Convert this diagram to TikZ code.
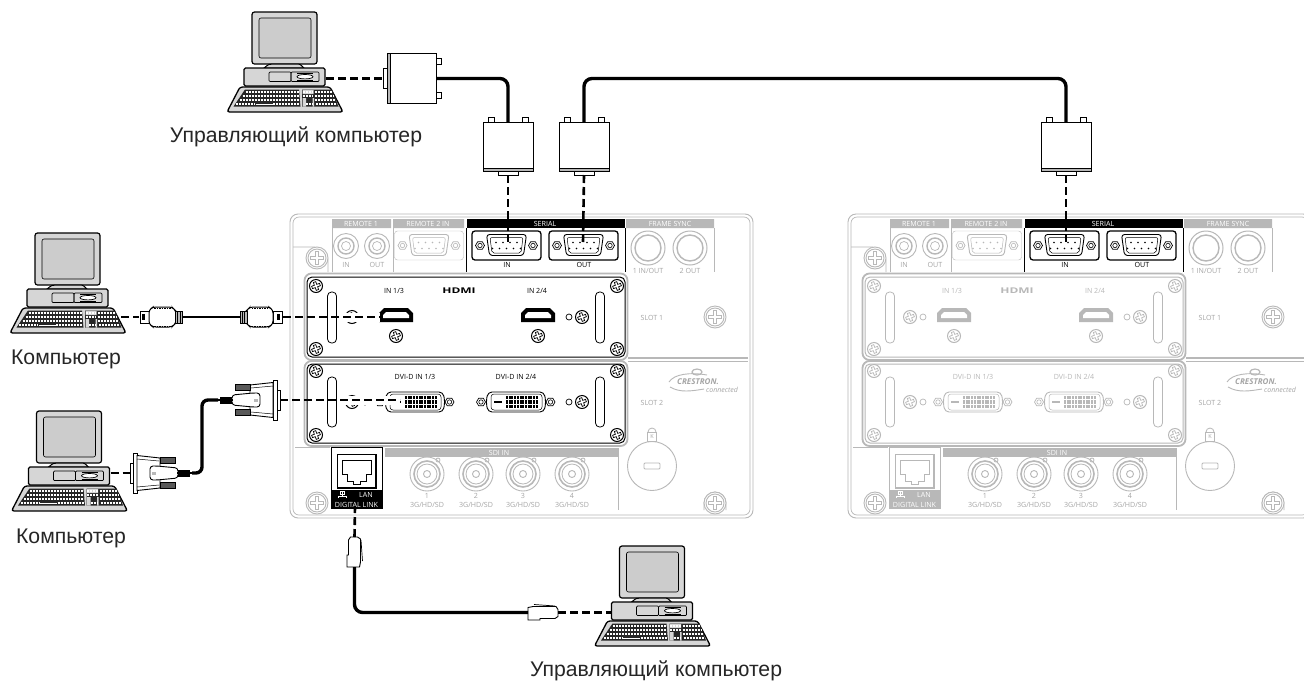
\documentclass[tikz,border=0pt]{standalone}
\usepackage{fontspec}
\setmainfont{Liberation Sans}
\setsansfont{Open Sans}
\usetikzlibrary{calc}

\definecolor{panelgray}{gray}{.72}
\definecolor{bodygray}{gray}{.84}
\definecolor{screengray}{gray}{.80}
\newcommand{\plusoutline}{(-1.2,-4)--(1.2,-4)--(1.2,-1.2)--(4,-1.2)--(4,1.2)--(1.2,1.2)--(1.2,4)--(-1.2,4)--(-1.2,1.2)--(-4,1.2)--(-4,-1.2)--(-1.2,-1.2)--cycle}

\tikzset{
    caption/.style  ={font=\fontsize{21.2}{24}\selectfont, inner sep=0pt, text=black!85},
    ptxt/.style     ={font=\fontsize{7.1}{8}\selectfont\sffamily, inner sep=0pt},
    gtxt/.style     ={ptxt, text=panelgray!90!black},
    btxt/.style     ={ptxt, text=boardcol},
    wtxt/.style     ={ptxt, text=white},
    signal/.style   ={line width=2.6pt, dash pattern=on 8pt off 4pt},
    cable/.style    ={line width=3.4pt, rounded corners=8pt},
    halo/.style     ={white, line width=9pt},
    keyrow/.style   ={white, line width=2.9pt, dash pattern=on 2.2pt off .8pt},
    % little parts of the rear panel
    platescrew/.pic={
        \draw[line width=1pt, fill=white] (0,0) circle[radius=6.5pt];
        \draw[line width=.7pt, scale=1.05, rotate=20] \plusoutline;
    },
    bigscrew/.pic={
        \draw[panelgray, line width=.9pt, fill=white] (0,0) circle[radius=11pt];
        \draw[panelgray, line width=.9pt] (0,0) circle[radius=9pt];
        \draw[panelgray, line width=.9pt, scale=1.6] \plusoutline;
    },
    hexscrew/.pic={
        \draw[line width=.7pt, fill=white] (-4.5,0)--(-2.3,-3.8)--(2.3,-3.8)--(4.5,0)--(2.3,3.8)--(-2.3,3.8)--cycle;
        \draw[line width=.6pt] (0,0) circle[radius=2.2pt];
    },
    serialport/.pic={
        \draw[rounded corners=3pt, fill=white] (-34.5,-14.5) rectangle (34.5,14.5);
        \pic at (-26.5,0) {hexscrew};
        \pic at (26.5,0) {hexscrew};
        \draw[line width=.9pt, rounded corners=3pt, fill=white] (-20,-11) -- (20,-11) -- (17,10) -- (-17,10) -- cycle;
        \draw[line width=.5pt, rounded corners=2pt] (-16.5,-8) -- (16.5,-8) -- (14.5,7.5) -- (-14.5,7.5) -- cycle;
        \foreach \x in {-10.5,-3.5,3.5,10.5} \fill (\x,-3) circle[radius=.9pt];
        \foreach \x in {-14,-7,0,7,14} \fill (\x,3) circle[radius=.9pt];
    },
    hdmiport/.pic={
        \fill (-17,-2)--(-12,-7)--(12,-7)--(17,-2)--(17,7)--(-17,7)--cycle;
        \fill[white] (-13,0)--(-10,-3)--(10,-3)--(13,0)--(13,3)--(-13,3)--cycle;
    },
    dviport/.pic={
        \pic at (-35,0) {hexscrew};
        \pic at (34.5,0) {hexscrew};
        \draw[line width=.9pt, rounded corners=4pt, fill=white] (-28,-10) -- (28,-10) -- (30,0) -- (28,10) -- (-28,10) -- (-30,0) -- cycle;
        \draw[line width=.5pt, rounded corners=3pt] (-25,-8) rectangle (26,8);
        \draw[line width=1.5pt] (-22,0) -- (-14,0);
        \foreach \y in {-4.5,0,4.5} \draw[line width=3.4pt, dash pattern=on 2pt off .7pt] (-10,\y) -- (22,\y);
    },
    bncport/.pic={
        \draw[panelgray, line width=.9pt, fill=white] (0,0) circle[radius=17pt];
        \draw[panelgray, line width=1.6pt] (0,0) circle[radius=13pt];
        \draw[panelgray, line width=.8pt] (0,0) circle[radius=10pt];
        \draw[panelgray, line width=.9pt] (0,0) circle[radius=3.5pt];
        \draw[panelgray, line width=.8pt] (11,-14) circle[radius=2pt];
    },
    % the computer, origin at the top of the monitor
    computer/.pic={
        \draw[line width=1.2pt, fill=bodygray, rounded corners=2.5pt] (-33,0) rectangle (32,52);
        \draw[line width=.6pt, fill=screengray, rounded corners=2pt] (-26,6) rectangle (26,46);
        \draw[line width=1pt, fill=bodygray] (-21,56) .. controls (-16,52) .. (-12,52) -- (11,52) .. controls (15,52) .. (19,56) -- cycle;
        \draw[line width=1.2pt, fill=bodygray, rounded corners=1.5pt] (-41,56) rectangle (40,74);
        \draw[line width=.7pt, rounded corners=1pt] (-16,60) rectangle (6,69.5);
        \draw[line width=.7pt, rounded corners=1pt] (6,60) rectangle (34,69.5);
        \draw[line width=.6pt] (12,61.5) -- (28,61.5) (12,68) -- (28,68);
        \draw[line width=.7pt, fill=white] (20,64.7) ellipse[x radius=8pt, y radius=2.2pt];
        \draw[line width=1.3pt, fill=bodygray, rounded corners=2.5pt] (-45,75) -- (45,75) -- (58,100) -- (-58,100) -- cycle;
        \fill[black!85] (-40,77.5) -- (14,77.5) -- (15.5,94.5) -- (-51.5,94.5) -- cycle;
        \fill[black!85] (17,77.5) -- (47,77.5) -- (53.5,94.5) -- (17,94.5) -- cycle;
        \fill[bodygray] (17.5,78) rectangle (28.5,82) (17.5,86) rectangle (21,94.5) (27.5,86) rectangle (29,94.5);
        \foreach \y/\xa/\xb in {80/-39.5/13.5, 84/-42.5/14, 88/-45.5/14.5, 92/-49/-30, 92/-12/15}
            \draw[keyrow] (\xa,\y) -- (\xb,\y);
        \draw[keyrow, line width=1.5pt, dash pattern=] (-29.5,92.5) -- (-12.5,92.5);
        \foreach \y/\xa/\xb in {80/17.5/28, 80/30/47, 84/17.5/28, 84/30/48.5, 88/30/50, 92/31/52, 92/21/27.5}
            \draw[keyrow] (\xa,\y) -- (\xb,\y);
        \coordinate (-key) at (53,84);
        \coordinate (-rear) at (41,66.5);
        \coordinate (-left) at (-41,66.5);
    },
    % D-sub plug, origin where the cable enters
    dsubplug/.pic={
        \draw[line width=.8pt, fill=white] (-20,-5) rectangle (-14,0);
        \draw[line width=.8pt, fill=white] (14,-5) rectangle (20,0);
        \draw[line width=.8pt, fill=white] (-10,48) rectangle (10,53);
        \draw[line width=.9pt, fill=white] (-25,0) rectangle (25,49);
        \draw[line width=.8pt, fill=panelgray] (-25,46) rectangle (25,49);
        \coordinate (-top) at (0,0);
        \coordinate (-pin) at (0,53);
    },
    hdmiplug/.pic={
        \draw[line width=.9pt, fill=white] (-42,-6) rectangle (-33,6);
        \fill (-40,-3) rectangle (-37,3);
        \draw[line width=1pt, fill=white, rounded corners=3pt] (-33,-7) -- (-29,-10) -- (-10,-10) -- (-6,-6) -- (-6,6) -- (-10,10) -- (-29,10) -- (-33,7) -- cycle;
        \draw[line width=.8pt, dash pattern=on 1.5pt off 1pt] (-28,-9) -- (-11,-9) (-28,9) -- (-11,9);
        \draw[line width=.8pt, fill=panelgray] (-7,-6) rectangle (0,6);
        \draw[line width=.6pt] (-4.5,-6) -- (-4.5,6) (-2,-6) -- (-2,6);
        \coordinate (-tip) at (-43,0);
        \coordinate (-tail) at (0,0);
    },
    dviplug/.pic={
        \draw[line width=.8pt, fill=white] (0,-10) rectangle (3,10);
        \draw[line width=.9pt, fill=white] (-4,-20) rectangle (0,20);
        \draw[line width=.9pt, fill=white] (-27,-15) -- (-4,-17.5) -- (-4,17.5) -- (-27,15) -- cycle;
        \draw[line width=.5pt] (-26,-12) -- (-4,-14) (-26,12) -- (-4,14);
        \draw[line width=.7pt, fill=black!65] (-42,-15.5) rectangle (-27,-10);
        \draw[line width=.7pt, fill=black!65] (-42,9.5) rectangle (-27,15);
        \draw[line width=.9pt, fill=white, rounded corners=3pt] (-45,-5) -- (-24,-7) -- (-17,-7) -- (-17,7) -- (-24,7) -- (-45,5) -- cycle;
        \fill[panelgray] (-23,-1.5) rectangle (-19,1.5);
        \draw[line width=2pt] (-59,0) -- (-44,0);
        \fill[black] (-57,-3.5) rectangle (-45,3.5);
        \coordinate (-end) at (3,0);
        \coordinate (-tail) at (-59,0);
    },
    lanplug/.pic={
        \draw[line width=.9pt, fill=white] (0,-5) -- (5,-6) -- (28,-6) -- (30,-3) -- (30,4) -- (27,6) -- (12,6) -- (12,7.5) -- (0,7.5) -- cycle;
        \draw[line width=.7pt] (6,-8) -- (27,-6.5);
        \coordinate (-tail) at (0,0);
        \coordinate (-tip) at (30,0);
    },
    % the whole rear panel, drawn at the position of the left one
    pics/rearpanel/.style={code={
        \colorlet{boardcol}{#1}
        \draw[panelgray, line width=.9pt, rounded corners=8pt] (290,214) rectangle (753,518);
        \draw[panelgray, line width=.7pt, rounded corners=6pt] (293,217) rectangle (750,515);
        % top row
        \fill[panelgray] (332,219) rectangle (391,228) (393,219) rectangle (464,228) (626,219) rectangle (714,228);
        \fill[black] (467,219) rectangle (625,228);
        \node[wtxt] (remotea) at (361,224) {REMOTE 1};
        \node[wtxt] (remoteb) at (428,224) {REMOTE 2 IN};
        \node[wtxt] (serial) at (545,224) {SERIAL};
        \node[wtxt] (framesync) at (670,224) {FRAME SYNC};
        \draw[panelgray, line width=.7pt] (332,228) -- (332,272) (393,228) -- (393,272) (714,228) -- (714,272);
        \draw[black, line width=.7pt] (466,228) -- (466,272) (625,228) -- (625,272);
        \foreach \n/\x/\t in {ain/346/IN, aout/377/OUT} {
            \draw[panelgray, line width=.9pt] (\x,246) circle[radius=12.5pt];
            \draw[panelgray, line width=1.4pt] (\x,246) circle[radius=8pt];
            \draw[panelgray, line width=.7pt] (\x,246) circle[radius=4.5pt];
            \node[gtxt] (\n) at (\x,264.5) {\t};
        }
        \pic[color=panelgray] at (429,245.5) {serialport};
        \pic[color=black, line width=1.3pt] (serin) at (506.5,245.5) {serialport};
        \pic[color=black, line width=1.3pt] (serout) at (583.5,245.5) {serialport};
        \node[ptxt] (inlabel) at (507,264.5) {IN};
        \node[ptxt] (outlabel) at (584,264.5) {OUT};
        \foreach \n/\x/\t in {fsa/648/{1 IN/OUT}, fsb/690/{2 OUT}} {
            \draw[panelgray, line width=1pt] (\x,248) circle[radius=17pt];
            \draw[panelgray, line width=1.4pt] (\x,248) circle[radius=13pt];
            \node[gtxt] (\n) at (\x,271) {\t};
        }
        \draw[panelgray, line width=.9pt] (293,247) -- (312,247) .. controls (322,247) and (328,252) .. (328,262) -- (328,272);
        \pic at (317,258) {bigscrew};
        % the two boards
        \foreach \ya/\yb/\yc/\yd in {273.5/360/277/357, 361/446/364/443} {
            \draw[panelgray, line width=1.8pt, rounded corners=7pt, fill=white] (304.5,\ya) rectangle (627.5,\yb);
            \draw[boardcol, line width=1pt, rounded corners=5pt] (307,\yc) rectangle (625,\yd);
        }
        \foreach \x in {316,617} \foreach \y in {286,349,371,435} \pic[color=boardcol] at (\x,\y) {platescrew};
        \foreach \x in {332,600} \foreach \ya/\yb in {292/343, 377/427}
            \draw[boardcol, line width=.8pt, rounded corners=4pt] (\x-4.5,\ya) rectangle (\x+4.5,\yb);
        \foreach \y in {317,402} {
            \pic[color=boardcol] at (352,\y) {platescrew};
            \pic[color=boardcol] at (582,\y) {platescrew};
            \draw[boardcol, line width=.7pt] (365,\y) circle[radius=3pt] (569,\y) circle[radius=3pt];
        }
        % HDMI board
        \node[btxt] (hdmilabela) at (394,291) {IN 1/3};
        \node[btxt, font=\fontsize{7.5}{8}\selectfont\sffamily\bfseries] (hdmilogo) at (459,291) {\scalebox{1.6}[1.05]{HDMI}};
        \node[btxt] (hdmilabelb) at (537,291) {IN 2/4};
        \pic[color=boardcol] at (396,315) {hdmiport};
        \pic[color=boardcol] at (538,315) {hdmiport};
        \pic[color=boardcol] at (396,336) {platescrew};
        \pic[color=boardcol] at (538,336) {platescrew};
        % DVI board
        \node[btxt] (dvilabela) at (415,377) {DVI-D IN 1/3};
        \node[btxt] (dvilabelb) at (516,377) {DVI-D IN 2/4};
        \pic[color=boardcol] at (415,402) {dviport};
        \pic[color=boardcol] at (516,402) {dviport};
        % right column
        \node[gtxt] (slota) at (652,318) {SLOT 1};
        \node[gtxt] (slotb) at (652,403) {SLOT 2};
        \pic at (715,317) {bigscrew};
        \draw[panelgray, line width=1.6pt] (628,358) -- (748,358);
        \draw[panelgray, line width=.7pt] (628,361) -- (748,361);
        \node[gtxt, font=\fontsize{8}{9}\selectfont\sffamily\bfseries\itshape] (crestron) at (698,381.5) {CRESTRON.};
        \node[gtxt, font=\fontsize{7}{8}\selectfont\sffamily\itshape] (connected) at (722,390) {connected};
        \draw[panelgray, line width=.9pt] (669,382) .. controls (674,374) and (690,372) .. (707,375);
        \draw[panelgray, line width=.9pt] (670,387) .. controls (680,393) and (692,391) .. (704,389);
        \draw[panelgray, line width=1.2pt] (697,372) ellipse[x radius=5pt, y radius=3pt];
        \draw[panelgray, line width=.9pt] (652,466) circle[radius=24.5pt];
        \draw[panelgray, line width=.9pt, rounded corners=1pt] (644,463) rectangle (660,469);
        \draw[panelgray, line width=.8pt] (648,432) arc[start angle=180, end angle=0, radius=4pt];
        \draw[panelgray, line width=.8pt, fill=white] (647.5,432) rectangle (656.5,441);
        \node[gtxt, font=\fontsize{5.5}{6}\selectfont\sffamily] (lockmark) at (652,436.5) {K};
        % bottom row
        \draw[panelgray, line width=.9pt] (295,447) -- (330,447);
        \fill[panelgray] (385,448) rectangle (618,457);
        \node[wtxt] (sdiin) at (499,453) {SDI IN};
        \draw[panelgray, line width=.7pt] (618,448) -- (618,510);
        \foreach \i/\x in {1/427,2/476,3/523,4/572} {
            \pic at (\x,474) {bncport};
            \node[gtxt] (sdi\i) at (\x,496) {\i};
            \node[gtxt] (rate\i) at (\x,505) {3G/HD/SD};
        }
        \pic at (317,503) {bigscrew};
        \draw[panelgray, line width=.9pt] (704,510) -- (704,503) arc[start angle=180, end angle=0, radius=11pt] -- (726,510);
        \pic at (715,503) {bigscrew};
        % LAN
        \fill[boardcol] (331,490) rectangle (382,509);
        \draw[boardcol, line width=.8pt] (331,509) -- (331,447) -- (382,447) -- (382,509);
        \draw[boardcol, line width=1.6pt] (337.5,454.5) rectangle (376,488);
        \draw[boardcol, line width=.9pt] (342,460) -- (371,460) -- (371,474) -- (366,474) -- (366,481) -- (360,481) -- (360,484) -- (353,484) -- (353,481) -- (347,481) -- (347,474) -- (342,474) -- cycle;
        \node[wtxt] (lan) at (366,494.5) {LAN};
        \node[wtxt] (digital) at (356.5,505) {DIGITAL LINK};
        \draw[white, line width=.5pt] (342,491.5) -- (342,496) (338,498) -- (338,496) -- (346,496) -- (346,498) (340,491.5) rectangle (344,494);
        % where the cables meet the panel
        \coordinate (-serialin) at (508,242);
        \coordinate (-serialout) at (583,242);
        \coordinate (-hdmi) at (380,317);
        \coordinate (-dvi) at (400,400);
        \coordinate (-lan) at (355,507);
    }},
}

\begin{document}
\begin{tikzpicture}[x=1pt, y=-1pt]

\clip (0,0) rectangle (1304,681);
\fill[white] (0,0) rectangle (1304,681);

\pic (panelA) at (0,0) {rearpanel=black};
\pic (panelB) at (558,0) {rearpanel=panelgray};

% computers
\pic (pcTop) at (285,12) {computer};
\pic (pcHdmi) at (68,233) {computer};
\pic (pcDvi) at (69.5,411) {computer};
\pic (pcLan) at (652.5,546) {computer};

\node[caption] (capTop) at (296,137) {Управляющий компьютер};
\node[caption] (capHdmi) at (66,359) {Компьютер};
\node[caption] (capDvi) at (71,538) {Компьютер};
\node[caption] (capLan) at (656,671) {Управляющий компьютер};

% plugs
\pic[rotate=-90] (serA) at (436,78.5) {dsubplug};
\pic (serB) at (508,122) {dsubplug};
\pic (serC) at (584,122) {dsubplug};
\pic (serD) at (1066,122) {dsubplug};
\pic (hdmiA) at (182,317) {hdmiplug};
\pic[xscale=-1] (hdmiB) at (240,317) {hdmiplug};
\pic[xscale=-1] (dviA) at (133,473) {dviplug};
\pic (dviB) at (277,400) {dviplug};
\pic[rotate=90, yscale=-1] (lanA) at (354.5,567) {lanplug};
\pic (lanB) at (528,612.5) {lanplug};

\coordinate (serMid) at (825,78.5);
\coordinate (dviMid) at (202,436);

% cables
\draw[cable] (serA-top) -| (serB-top);
\draw[cable] (serC-top) |- (serMid) -| (serD-top);
\draw[line width=2.4pt] (hdmiA-tail) -- (hdmiB-tail);
\draw[cable, rounded corners=6pt] (dviA-tail) -| (dviMid) |- (dviB-tail);
\draw[cable] (lanA-tail) |- (lanB-tail);

% dashed runs
\draw[halo] (344,317) -- (panelA-hdmi);
\draw[halo] (344,400) -- (panelA-dvi);
\draw[signal] (pcTop-rear) -- (serA-pin);
\draw[signal] (serB-pin) -- (panelA-serialin);
\draw[signal] (serC-pin) -- (panelA-serialout);
\draw[signal] (serD-pin) -- (panelB-serialin);
\draw[signal] (pcHdmi-key) -- (hdmiA-tip);
\draw[signal] (hdmiB-tip) -- (panelA-hdmi);
\draw[signal] (pcDvi-rear |- dviA-end) -- (dviA-end);
\draw[signal] (dviB-end) -- (panelA-dvi);
\draw[signal] (lanA-tip) -- (panelA-lan);
\draw[signal] (lanB-tip) -- (pcLan-left);

\end{tikzpicture}
\end{document}
